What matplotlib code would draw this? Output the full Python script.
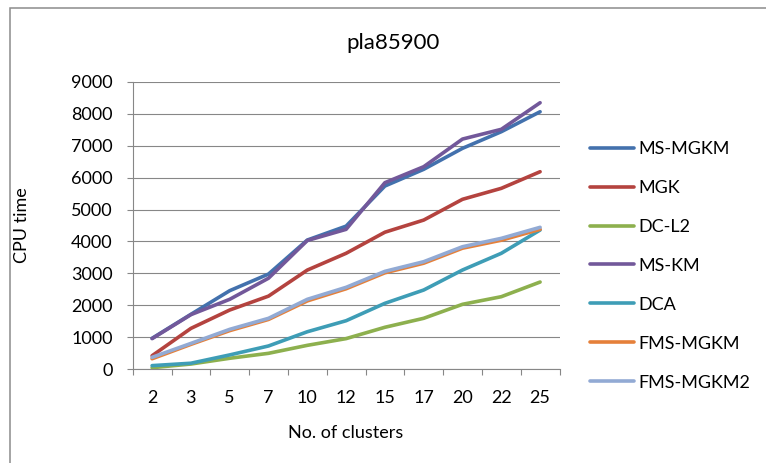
import matplotlib
matplotlib.use("Agg")
import matplotlib.pyplot as plt
from matplotlib.patches import Rectangle
from matplotlib.ticker import MultipleLocator, FixedLocator, NullFormatter

plt.rcParams["font.family"] = ["Lato", "DejaVu Sans"]

# CPU time for the pla85900 instance by number of clusters
clusters = ["2", "3", "5", "7", "10", "12", "15", "17", "20", "22", "25"]
ms_mgkm = [970, 1720, 2460, 2980, 4045, 4480, 5735, 6258, 6915, 7435, 8060]
mgk = [425, 1280, 1855, 2290, 3105, 3630, 4290, 4670, 5320, 5663, 6183]
dc_l2 = [50, 165, 345, 500, 750, 960, 1315, 1596, 2034, 2272, 2731]
ms_km = [960, 1710, 2190, 2850, 4030, 4380, 5840, 6340, 7205, 7510, 8342]
dca = [115, 190, 450, 730, 1175, 1520, 2065, 2481, 3107, 3630, 4358]
fms_mgkm = [330, 780, 1210, 1560, 2140, 2520, 3020, 3320, 3790, 4040, 4380]
fms_mgkm2 = [375, 810, 1250, 1595, 2190, 2565, 3065, 3367, 3836, 4098, 4443]

series = [
    ("MS-MGKM", ms_mgkm, "#4371AD"),
    ("MGK", mgk, "#B4433F"),
    ("DC-L2", dc_l2, "#8DB04E"),
    ("MS-KM", ms_km, "#72589A"),
    ("DCA", dca, "#3E9DB6"),
    ("FMS-MGKM", fms_mgkm, "#E5803A"),
    ("FMS-MGKM2", fms_mgkm2, "#92AAD4"),
]

W, H = 766, 463
fig = plt.figure(figsize=(W / 100, H / 100), dpi=100)

def fx(px):
    return px / W

def fy(py):
    return 1 - py / H

# outer chart frame
fig.patches.append(Rectangle((fx(9.5), fy(480)), 1.2, fy(7.5) - fy(480),
                             transform=fig.transFigure, fill=False,
                             edgecolor="#8C8C8C", linewidth=1.1, zorder=0))

left, right, top, bottom = 132.7, 559.5, 81.7, 369.3
ax = fig.add_axes([fx(left), fy(bottom), fx(right) - fx(left), fy(top) - fy(bottom)])

x = list(range(len(clusters)))
for name, vals, col in series:
    ax.plot(x, vals, color=col, linewidth=2.6, label=name,
            solid_capstyle="round", solid_joinstyle="round", zorder=3)

ax.set_xlim(-0.5, len(clusters) - 0.5)
ax.set_ylim(0, 9000)
ax.yaxis.set_major_locator(MultipleLocator(1000))
ax.grid(axis="y", color="#878787", linewidth=0.8, zorder=1)

gray = "#878787"
for s in ("top", "right"):
    ax.spines[s].set_visible(False)
for s in ("left", "bottom"):
    ax.spines[s].set_color(gray)
    ax.spines[s].set_linewidth(0.8)

ax.set_xticks(x)
ax.set_xticklabels(clusters)
ax.xaxis.set_minor_locator(FixedLocator([i - 0.5 for i in range(len(clusters) + 1)]))
ax.xaxis.set_minor_formatter(NullFormatter())
ax.tick_params(axis="x", which="major", length=0, pad=15, labelsize=13)
ax.tick_params(axis="x", which="minor", length=4.5, width=0.8, color=gray, direction="out")
ax.tick_params(axis="y", length=4.5, width=0.8, color=gray, direction="out",
               pad=10, labelsize=13)

fig.text(fx(393), fy(43), "pla85900", ha="center", va="center", fontsize=16)
fig.text(fx(346), fy(433), "No. of clusters", ha="center", va="center", fontsize=13)
fig.text(fx(22), fy(225.5), "CPU time", ha="center", va="center",
         rotation=90, fontsize=13)

leg = ax.legend(loc="upper left", bbox_to_anchor=(fx(590), fy(141)),
                bbox_transform=fig.transFigure, frameon=False, fontsize=13,
                handlelength=2.45, handletextpad=0.25, labelspacing=1.27,
                borderpad=0, borderaxespad=0)
for line in leg.get_lines():
    line.set_linewidth(2.6)

fig.savefig("out.png", dpi=100)
